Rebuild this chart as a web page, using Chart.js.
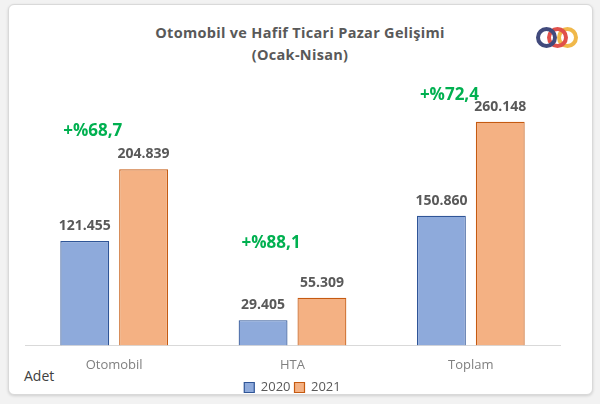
<!DOCTYPE html>
<html><head><meta charset="utf-8">
<script src="https://cdn.jsdelivr.net/npm/chart.js@4"></script>
<style>
body{margin:0;background:#f2f2f2;width:600px;height:404px;overflow:hidden;font-family:"Open Sans",sans-serif}
#card{position:absolute;left:8px;top:4px;width:583px;height:389px;background:#fff;border:1px solid #d9d9d9;border-radius:6px;box-shadow:0 1px 3px rgba(0,0,0,.15)}
#c{position:absolute;left:0;top:0}
.t{position:absolute;left:0;width:600px;text-align:center;color:#595959;font-weight:bold;font-size:14.5px;letter-spacing:0.3px}
.r{position:absolute;width:13px;height:13px;border-radius:50%;border:4px solid}
#adet{position:absolute;left:24px;top:366px;font-size:14px;color:#404040}
</style></head><body>
<div id="card"></div>
<div class="t" style="top:23px">Otomobil ve Hafif Ticari Pazar Gelişimi</div>
<div class="t" style="top:45px">(Ocak-Nisan)</div>
<div class="r" style="left:557px;top:27px;border-color:#f0b84a"></div>
<div class="r" style="left:547px;top:27px;border-color:#e0504a"></div>
<div class="r" style="left:536px;top:27px;border-color:#414a7c"></div>
<div id="adet">Adet</div>
<canvas id="c" width="600" height="404"></canvas>
<script>
const categories=["Otomobil","HTA","Toplam"];
const series2020=[121455,29405,150860];
const series2021=[204839,55309,260148];
const growth=["+%68,7","+%88,1","+%72,4"];
const growthOffset=[30,46,18];
const fmt=v=>v.toString().replace(/\B(?=(\d{3})+(?!\d))/g,".");
const labels={id:"lbl",afterDatasetsDraw(ch){const c=ch.ctx;c.save();c.textAlign="center";c.textBaseline="bottom";
 ch.data.datasets.forEach((d,i)=>{ch.getDatasetMeta(i).data.forEach((b,j)=>{c.font="bold 14px 'Open Sans'";c.fillStyle="#595959";c.fillText(fmt(d.data[j]),b.x,b.y-8);});});
 const m0=ch.getDatasetMeta(0).data,m1=ch.getDatasetMeta(1).data;
 growth.forEach((g,j)=>{c.font="bold 17px 'Open Sans'";c.fillStyle="#00b050";c.fillText(g,m0[j].x+8,m1[j].y-growthOffset[j]);});
 c.restore();}};
new Chart(document.getElementById("c"),{type:"bar",
data:{labels:categories,datasets:[
{label:"2020",data:series2020,backgroundColor:"#8eaadb",borderColor:"#2f5597",borderWidth:1.2,categoryPercentage:0.66,barPercentage:0.83},
{label:"2021",data:series2021,backgroundColor:"#f4b183",borderColor:"#c55a11",borderWidth:1.2,categoryPercentage:0.66,barPercentage:0.83}]},
options:{responsive:false,animation:false,layout:{padding:{left:25,right:40,top:79,bottom:0}},
plugins:{tooltip:{enabled:false},legend:{position:"bottom",labels:{boxWidth:10,boxHeight:10,padding:4,color:"#595959",font:{size:13,family:"Open Sans"}}}},
scales:{y:{display:false,min:0,max:310000},x:{grid:{display:false},border:{color:"#d9d9d9"},ticks:{color:"#808080",padding:4,font:{size:13,family:"Open Sans"}}}}},
plugins:[labels]});
</script></body></html>
